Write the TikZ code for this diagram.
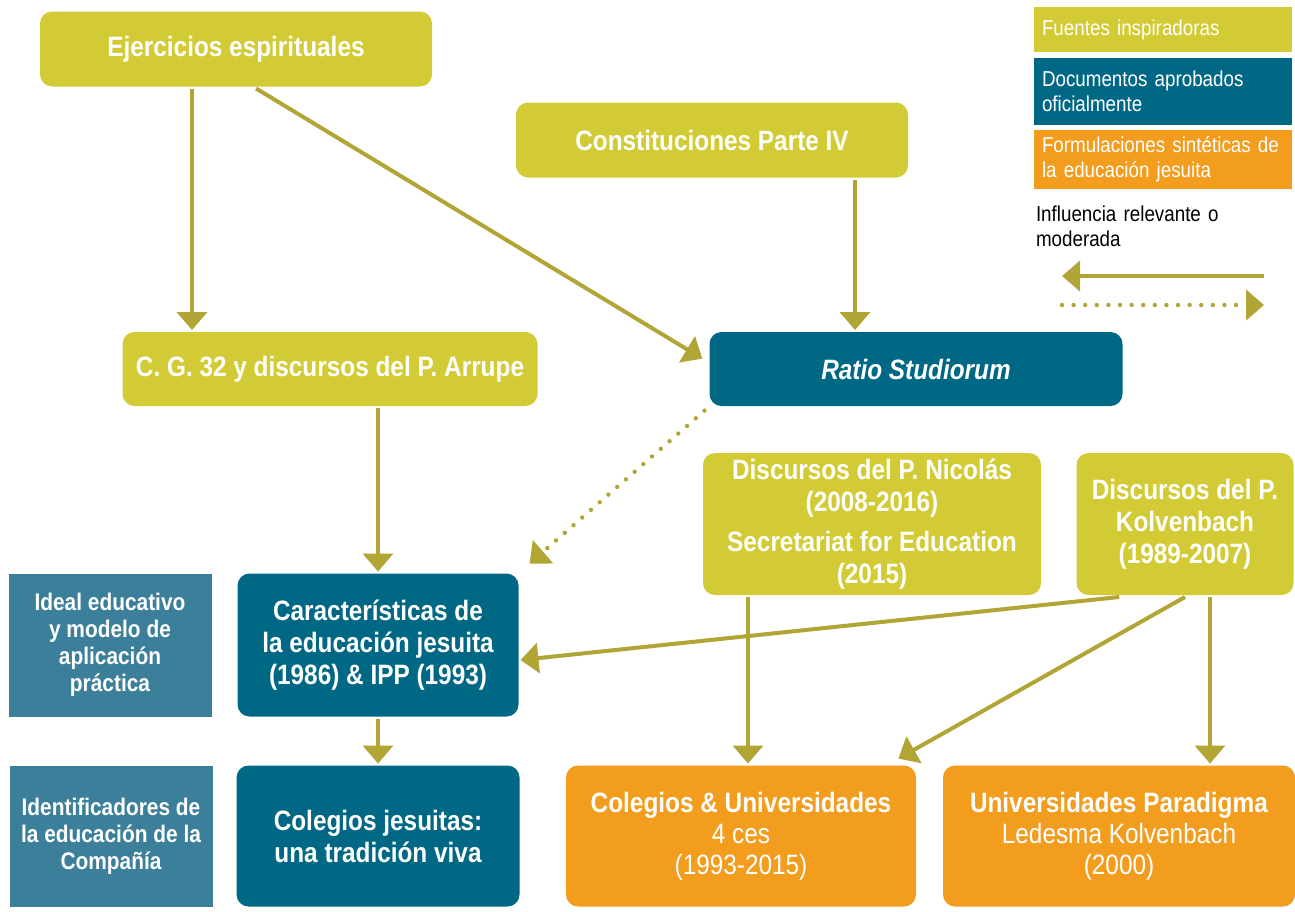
\documentclass[tikz,border=0pt]{standalone}
\usepackage{fontspec}
\setmainfont{Liberation Sans}[FakeStretch=0.87]
\usepackage {tikz}
\usetikzlibrary {positioning,arrows.meta}
\definecolor {fuentecol}{HTML}{D3CB36}
\definecolor {docucol}{HTML}{006884}
\definecolor {identcol}{HTML}{3B7F9B}
\definecolor {formulcol}{HTML}{F39D1F}
\definecolor {flechacol}{HTML}{B1A535}

\begin{document}
\begin{tikzpicture}[x=0.5pt ,y=-0.5pt ,on grid ,
-{Triangle[width=15pt,length=9pt]} ,line width=2pt ,flechacol ,
caja/.style ={rounded corners=6pt ,inner sep=0pt ,text=white ,align=center ,
font=\fontsize{14}{16}\selectfont\bfseries },
fuente/.style ={caja ,fill=fuentecol },
docu/.style ={caja ,fill=docucol },
formul/.style ={caja ,fill=formulcol ,font=\fontsize{14}{15.5}\selectfont },
ident/.style ={caja ,rounded corners=0pt ,fill=identcol ,
font=\fontsize{12}{13.5}\selectfont\bfseries },
leyenda/.style ={inner xsep=4pt ,inner ysep=0pt ,text width=121pt ,align=left ,
text=white ,font=\fontsize{10.8}{12.5}\selectfont },
influye/.style ={dash pattern=on 0pt off 5.8pt ,line cap=round ,line width=2.2pt }]
\useasboundingbox (0,0) rectangle (1295,911);
\node[fuente ,minimum width=196pt ,minimum height=37.5pt] (EJ) at (236,49)
{Ejercicios espirituales};
\node[fuente ,minimum width=196pt ,minimum height=37.5pt] (CONST)
[below right=45.5pt and 238pt of EJ] {Constituciones Parte IV};
\node[fuente ,minimum width=207.5pt ,minimum height=37pt] (CG)
[below right=160pt and 47pt of EJ] {C. G. 32 y discursos del P. Arrupe};
\node[docu ,minimum width=206.5pt ,minimum height=37pt] (RATIO)
[right=293pt of CG] {\itshape Ratio Studiorum};
\node[fuente ,minimum width=169pt ,minimum height=71pt] (NIC)
[below left=77.5pt and 22pt of RATIO]
{Discursos del P. Nicolás\\(2008-2016)\\[4pt]Secretariat for Education\\(2015)};
\node[fuente ,minimum width=108.5pt ,minimum height=71pt] (KOL)
[right=156.5pt of NIC] {Discursos del P.\\Kolvenbach\\(1989-2007)};
\node[docu ,minimum width=140.5pt ,minimum height=71.5pt] (CARAC)
[below right=138pt and 24pt of CG]
{Características de\\la educación jesuita\\(1986) \& IPP (1993)};
\node[ident ,minimum width=101.5pt ,minimum height=71.5pt] (IDEAL)
[left=134pt of CARAC] {Ideal educativo\\y modelo de\\aplicación\\práctica};
\node[docu ,minimum width=141.5pt ,minimum height=70.5pt] (COLJ)
[below=95.5pt of CARAC] {Colegios jesuitas:\\una tradición viva};
\node[ident ,minimum width=101.5pt ,minimum height=70.5pt] (IDENT)
[left=133.5pt of COLJ] {Identificadores de\\la educación de la\\Compañía};
\node[formul ,minimum width=175pt ,minimum height=70.5pt] (COLU)
[right=181.5pt of COLJ] {\textbf{Colegios \& Universidades}\\4 ces\\(1993-2015)};
\node[formul ,minimum width=176pt ,minimum height=70.5pt] (UNIP)
[right=189pt of COLU] {\textbf{Universidades Paradigma}\\Ledesma Kolvenbach\\(2000)};
% leyenda
\node[leyenda ,fill=fuentecol ,minimum height=22.5pt] (LF) at (1163,29.5)
{Fuentes inspiradoras};
\node[leyenda ,fill=docucol ,minimum height=33.5pt] (LD) at (1163,91.5)
{Documentos aprobados\\oficialmente};
\node[leyenda ,fill=formulcol ,minimum height=29.5pt] (LO) at (1163,159.5)
{Formulaciones sintéticas de\\la educación jesuita};
\node[leyenda ,text=black ,anchor=north west ,inner xsep=0pt] (LI) at (1034,204)
{Influencia relevante o\\moderada};
\coordinate (solA) at (1264,276);
\coordinate (solB) at (1062,276);
\coordinate (dotA) at (1062,305);
\coordinate (dotB) at (1264,305);
\draw (solA) -- (solB);
\draw[influye] (dotA) -- (dotB);
% flechas
\draw ([xshift=-22pt]EJ.south) -- ([xshift=-22pt]EJ.south |- CG.north);
\draw[shorten >=3pt] (EJ.-63) -- (RATIO.178);
\draw ([xshift=71.5pt]CONST.south) -- ([xshift=71.5pt]CONST.south |- RATIO.north);
\draw (CARAC.north |- CG.south) -- (CARAC.north);
\draw[influye ,shorten <=2pt ,shorten >=6pt] (RATIO.south west) -- (CARAC.north east);
\draw (CARAC.south) -- (COLJ.north);
\draw ([xshift=-62pt]NIC.south) -- ([xshift=-62pt]NIC.south |- COLU.north);
\draw (KOL.228) -- (CARAC.-6);
\draw[shorten >=5pt] (KOL.south) -- (COLU.26);
\draw ([xshift=12.5pt]KOL.south) -- ([xshift=12.5pt]KOL.south |- UNIP.north);
\end{tikzpicture}
\end{document}
